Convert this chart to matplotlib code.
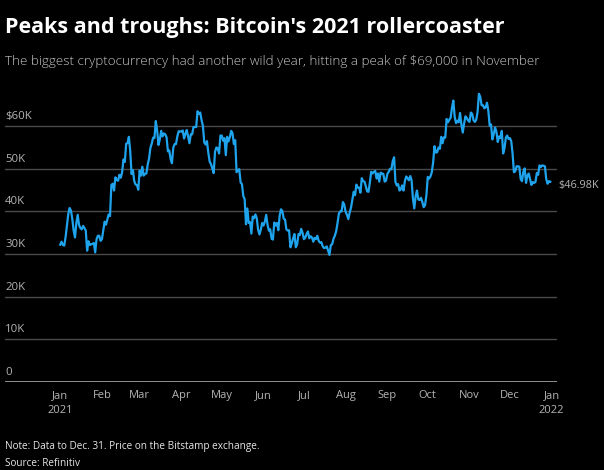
import matplotlib
matplotlib.use("Agg")
import matplotlib.pyplot as plt
import numpy as np
import pandas as pd

# Daily Bitcoin closing price on Bitstamp, 2021 (thousands of US dollars), by month
jan = [32.2, 32.9, 32.1, 32.0, 34.0, 36.8, 39.4, 40.8, 40.2, 38.2, 35.5, 33.9, 37.3, 39.2, 36.8,
       36.1, 35.8, 36.6, 36.1, 35.5, 30.8, 33.0, 32.1, 32.3, 32.4, 32.6, 30.4, 33.5, 34.3, 34.3, 33.1]
feb = [33.5, 35.5, 37.6, 36.9, 38.1, 39.3, 38.9, 46.2, 46.5, 44.9, 48.0, 47.4, 47.2, 48.6, 47.9,
       49.2, 52.2, 51.6, 55.9, 56.0, 57.5, 54.2, 48.8, 49.7, 47.1, 46.3, 46.2, 45.1]
mar = [49.6, 48.4, 50.5, 48.4, 48.8, 48.9, 51.0, 52.4, 54.9, 55.9, 57.3, 57.2, 61.2, 59.0, 55.6,
       56.9, 58.9, 57.6, 58.3, 58.1, 57.4, 54.1, 54.3, 52.3, 51.3, 55.0, 55.8, 55.8, 57.6, 58.8, 58.8]
apr = [58.7, 59.0, 57.1, 58.2, 59.1, 57.6, 56.0, 58.1, 58.1, 59.8, 59.8, 59.8, 63.5, 62.9, 63.2,
       61.4, 60.1, 56.2, 55.7, 56.5, 53.8, 51.7, 51.1, 50.1, 49.0, 54.0, 55.0, 54.8, 53.6, 57.8]
may = [57.8, 56.6, 57.2, 53.2, 57.5, 56.4, 57.4, 58.9, 58.3, 55.8, 56.7, 49.2, 49.7, 49.9, 46.8,
       46.4, 43.6, 42.9, 37.0, 40.7, 37.3, 37.5, 34.8, 38.8, 38.4, 39.3, 38.4, 35.7, 34.6, 35.7, 37.3]
jun = [36.7, 37.6, 39.2, 36.9, 35.5, 35.8, 33.6, 33.4, 37.4, 36.7, 37.3, 35.6, 39.0, 40.5, 40.1,
       38.3, 38.1, 35.8, 35.5, 35.6, 31.6, 32.5, 33.7, 34.7, 31.6, 32.3, 34.7, 34.5, 35.9, 35.0]
jul = [33.5, 33.8, 34.7, 35.3, 33.7, 34.2, 33.9, 32.9, 33.8, 33.5, 34.3, 33.1, 32.7, 32.8, 31.8,
       31.4, 31.5, 31.8, 30.8, 29.8, 32.1, 32.3, 33.6, 34.3, 35.4, 37.3, 39.5, 40.0, 40.0, 42.2, 41.6]
aug = [39.9, 39.2, 38.2, 39.7, 40.9, 42.8, 44.6, 43.8, 46.3, 45.6, 45.6, 44.4, 47.8, 47.1, 47.0,
       45.9, 44.7, 44.6, 46.8, 49.3, 48.9, 49.3, 49.5, 47.7, 48.9, 47.0, 49.1, 48.9, 48.8, 47.0, 47.2]
sep = [48.8, 49.3, 50.0, 49.9, 51.8, 52.7, 46.9, 46.1, 46.4, 44.9, 45.2, 46.1, 44.9, 47.1, 48.2,
       47.8, 47.3, 48.3, 47.3, 43.0, 40.7, 43.6, 44.9, 42.8, 42.7, 43.2, 42.2, 41.0, 41.5, 43.8]
oct = [48.1, 47.7, 48.2, 49.2, 51.5, 55.3, 53.8, 53.9, 55.0, 54.7, 57.5, 56.0, 57.4, 57.3, 61.7,
       60.9, 61.5, 62.0, 64.3, 66.0, 62.2, 60.7, 61.3, 60.9, 63.1, 60.3, 58.5, 60.6, 62.3, 61.9, 61.3]
nov = [61.0, 63.2, 62.9, 61.4, 61.0, 61.5, 63.3, 67.6, 66.9, 64.9, 64.9, 64.2, 64.4, 65.5, 63.6,
       60.1, 60.4, 56.9, 58.1, 59.7, 58.7, 56.3, 57.6, 57.2, 58.9, 53.6, 54.8, 57.3, 57.8, 57.0]
dec = [57.2, 56.5, 53.6, 49.2, 49.4, 50.6, 50.6, 50.5, 47.6, 47.1, 49.3, 50.1, 46.7, 48.4, 48.9,
       47.6, 46.2, 46.9, 46.7, 46.9, 49.0, 48.6, 50.8, 50.4, 50.8, 50.7, 50.6, 47.6, 46.5, 47.1, 46.98]

price_k = jan + feb + mar + apr + may + jun + jul + aug + sep + oct + nov + dec
dates = pd.date_range("2021-01-01", "2021-12-31", freq="D")
price = np.array(price_k) * 1000.0

y_ticks = [0, 10000, 20000, 30000, 40000, 50000, 60000]
y_labels = ["0", "10K", "20K", "30K", "40K", "50K", "$60K"]
month_labels = ["Jan\n2021", "Feb", "Mar", "Apr", "May", "Jun", "Jul", "Aug",
                "Sep", "Oct", "Nov", "Dec", "Jan\n2022"]
last_label = "$46.98K"

title = "Peaks and troughs: Bitcoin's 2021 rollercoaster"
subtitle = "The biggest cryptocurrency had another wild year, hitting a peak of $69,000 in November"
note = "Note: Data to Dec. 31. Price on the Bitstamp exchange."
source = "Source: Refinitiv"

BG = "#000000"
LINE = "#1ea3ec"
GRID = "#4a4a4a"
TICK = "#b4b4b4"

plt.rcParams["font.family"] = ["Open Sans", "DejaVu Sans"]

W, H = 604, 470
fig = plt.figure(figsize=(W / 100, H / 100), dpi=100, facecolor=BG)

ax_left, ax_right = 5, 557
ax_top, ax_bottom = 75, 382
ax = fig.add_axes([ax_left / W, 1 - ax_bottom / H, (ax_right - ax_left) / W, (ax_bottom - ax_top) / H])
ax.set_facecolor(BG)

x0 = pd.Timestamp("2020-11-21")
x1 = pd.Timestamp("2022-01-05")
ax.set_xlim(x0, x1)
ax.set_ylim(0, 72000)

for v in y_ticks:
    if v == 0:
        ax.axhline(v, color="#9a9a9a", lw=1.3, zorder=1)
    else:
        ax.axhline(v, color=GRID, lw=1.0, zorder=1)

ax.plot(dates, price, color=LINE, lw=1.6, zorder=3, solid_joinstyle="round")

# Y labels sit just above their gridline, flush left
for v, lab in zip(y_ticks, y_labels):
    ax.annotate(lab, xy=(0, v), xycoords=("axes fraction", "data"),
                xytext=(0, 3), textcoords="offset points",
                ha="left", va="bottom", color=TICK, fontsize=8.2)

month_starts = pd.date_range("2021-01-01", "2022-01-01", freq="MS")
ax.set_xticks(month_starts)
ax.set_xticklabels(month_labels, color=TICK, fontsize=8.0, linespacing=1.4)
ax.tick_params(axis="x", length=0, pad=6)
ax.set_yticks([])
for s in ax.spines.values():
    s.set_visible(False)

ax.annotate(last_label, xy=(dates[-1], price[-1]), xytext=(6, -3), textcoords="offset points",
            ha="left", va="center", color=TICK, fontsize=7.8, annotation_clip=False)

fig.text(5 / W, 1 - 27 / H, title, color="white", fontsize=15.5, fontweight="bold",
         ha="left", va="center")
fig.text(5 / W, 1 - 62 / H, subtitle, color="#c8c8c8", fontsize=9.6, fontweight="light",
         ha="left", va="center")
fig.text(5 / W, 1 - 447 / H, note, color="#e6e6e6", fontsize=7.2, ha="left", va="center")
fig.text(5 / W, 1 - 464 / H, source, color="#e6e6e6", fontsize=7.2, ha="left", va="center")

fig.savefig("out.png", dpi=100, facecolor=BG)
